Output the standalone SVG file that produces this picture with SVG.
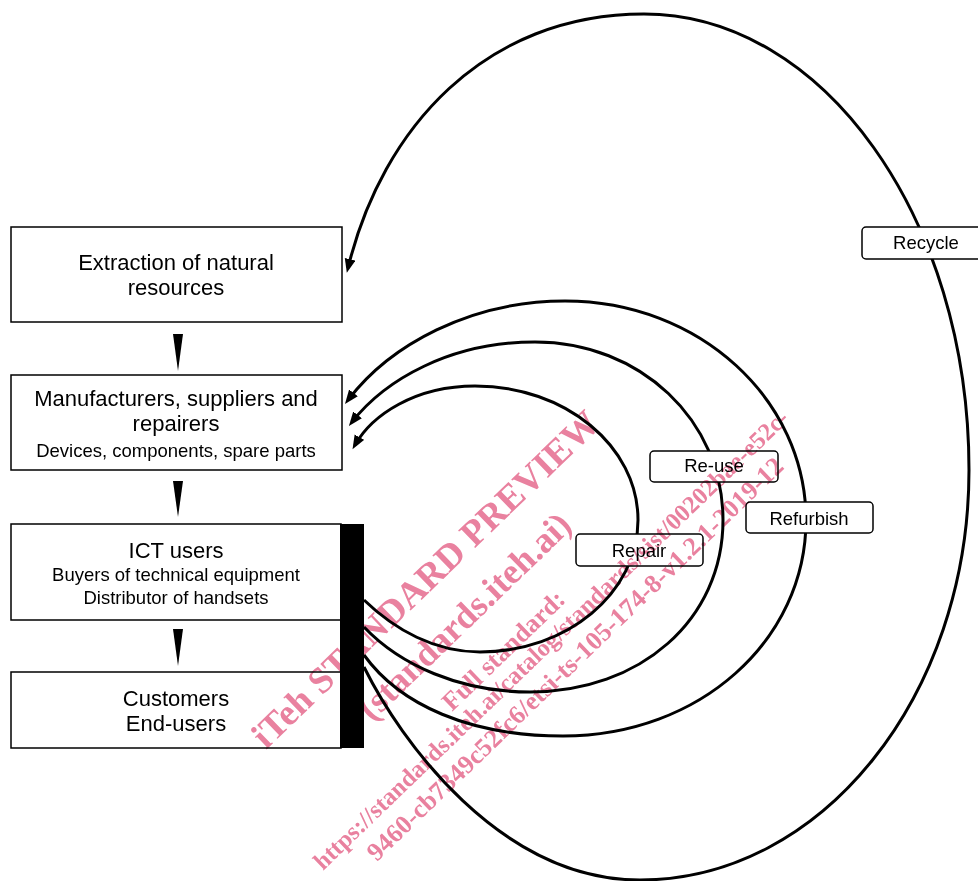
<svg xmlns="http://www.w3.org/2000/svg" width="978" height="881" viewBox="0 0 978 881">
<style>
.box{fill:#fff;stroke:#000;stroke-width:1.5}
.lbl{fill:#fff;stroke:#000;stroke-width:1.5}
.t{font-family:"Liberation Sans",Arial,sans-serif;fill:#000;text-anchor:middle}
.big{font-size:22px}
.sm{font-size:18.5px}
.c{fill:none;stroke:#000;stroke-width:3}
.wm{font-family:"Liberation Serif","Times New Roman",serif;font-weight:bold;fill:#e9819f}
</style>
<defs>
<marker id="ah" markerUnits="userSpaceOnUse" markerWidth="15" markerHeight="12" refX="9" refY="5.5" orient="auto">
<path d="M0,0 L14,5.5 L0,11 z" fill="#000"/>
</marker>
</defs>
<rect width="978" height="881" fill="#fff"/>
<g id="connectors">
<path class="c" marker-end="url(#ah)" d="M364,600 C395,630 435,652 480,652 C567,652 638,593 638,520 C638,446 565,386 475,386 C415,386 372,415 355,445"/>
<path class="c" marker-end="url(#ah)" d="M364,627 C400,665 460,692 530,692 C640,692 723,620 723,520 C723,420 640,342 535,342 C450,342 385,380 352,422"/>
<path class="c" marker-end="url(#ah)" d="M364,655 C400,705 470,736 563,736 C700,736 806,640 806,520 C806,400 700,301 565,301 C470,301 390,345 348,400"/>
<path class="c" marker-end="url(#ah)" d="M364,667 C400,740 500,880 640,880 C822,880 969,696 969,470 C969,218 823,14 644,14 C485,14 382,128 348,268"/>
<polygon points="173,334 183,334 178,371" fill="#000"/>
<polygon points="173,481 183,481 178,517" fill="#000"/>
<polygon points="173,629 183,629 178,666" fill="#000"/>
</g>
<g id="extraction">
<rect class="box" x="11" y="227" width="331" height="95"/>
<text class="t big" x="176" y="270">Extraction of natural</text>
<text class="t big" x="176" y="295">resources</text>
</g>
<g id="manufacturers">
<rect class="box" x="11" y="375" width="331" height="95"/>
<text class="t big" x="176" y="406">Manufacturers, suppliers and</text>
<text class="t big" x="176" y="431">repairers</text>
<text class="t sm" x="176" y="457">Devices, components, spare parts</text>
</g>
<g id="ict-users">
<rect class="box" x="11" y="524" width="330" height="96"/>
<text class="t big" x="176" y="558">ICT users</text>
<text class="t sm" x="176" y="581">Buyers of technical equipment</text>
<text class="t sm" x="176" y="604">Distributor of handsets</text>
</g>
<g id="customers">
<rect class="box" x="11" y="672" width="330" height="76"/>
<text class="t big" x="176" y="706">Customers</text>
<text class="t big" x="176" y="731">End-users</text>
</g>
<g id="bar">
<rect x="340" y="524" width="24" height="224" fill="#000"/>
</g>
<g id="recycle">
<rect class="lbl" x="862" y="227" width="130" height="32" rx="4"/>
<text class="t sm" x="926" y="249">Recycle</text>
</g>
<g id="reuse">
<rect class="lbl" x="650" y="451" width="128" height="31" rx="4"/>
<text class="t sm" x="714" y="472">Re-use</text>
</g>
<g id="refurbish">
<rect class="lbl" x="746" y="502" width="127" height="31" rx="4"/>
<text class="t sm" x="809" y="525">Refurbish</text>
</g>
<g id="repair">
<rect class="lbl" x="576" y="534" width="127" height="32" rx="4"/>
<text class="t sm" x="639" y="557">Repair</text>
</g>
<g id="watermark" style="mix-blend-mode:multiply">
<text class="wm" font-size="37" transform="translate(266,750) rotate(-44)">iTeh STANDARD PREVIEW</text>
<text class="wm" font-size="36" transform="translate(372,722) rotate(-44)">(standards.iteh.ai)</text>
<text class="wm" font-size="26" transform="translate(452,712) rotate(-44)">Full standard:</text>
<text class="wm" font-size="24.5" text-anchor="end" transform="translate(790,420) rotate(-44)">https://standards.iteh.ai/catalog/standards/sist/00202bae-e52c-</text>
<text class="wm" font-size="26" text-anchor="end" transform="translate(785,468) rotate(-44)">9460-cb7349c52fc6/etsi-ts-105-174-8-v1.2.1-2019-12</text>
</g>
</svg>
